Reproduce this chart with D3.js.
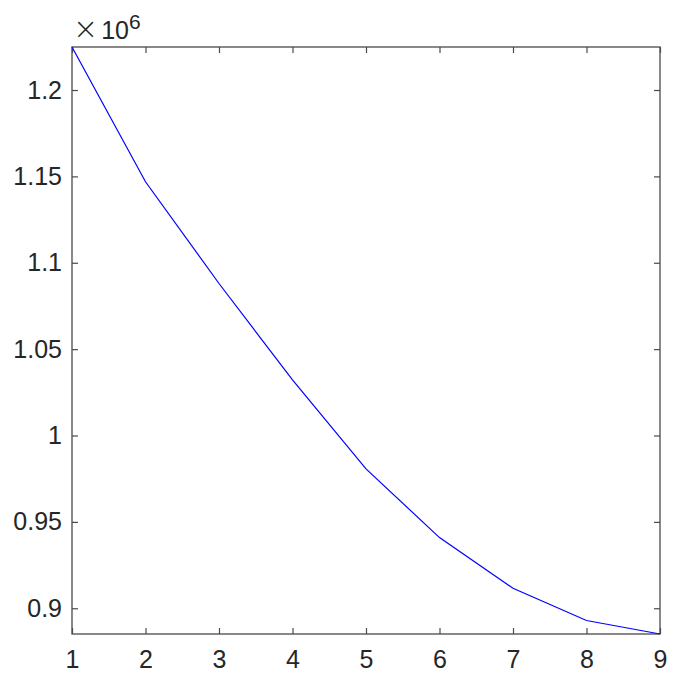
<!DOCTYPE html>
<html><head><meta charset="utf-8">
<script src="https://cdn.jsdelivr.net/npm/d3@7"></script>
<style>body{margin:0;background:#fff}svg{display:block}</style>
</head><body>
<svg id="c" width="692" height="692"></svg>
<script>
const xValues = [1, 2, 3, 4, 5, 6, 7, 8, 9];
const yValues = [1.2249e6, 1.1469e6, 1.0880e6, 1.0322e6, 0.9807e6, 0.9409e6, 0.9116e6, 0.8929e6, 0.8851e6];
const xTicks = [1, 2, 3, 4, 5, 6, 7, 8, 9];
const yTicks = [0.9e6, 0.95e6, 1.0e6, 1.05e6, 1.1e6, 1.15e6, 1.2e6];
const yTickLabels = ["0.9", "0.95", "1", "1.05", "1.1", "1.15", "1.2"];

const svg = d3.select("#c");
const L = 72, R = 660, T = 47, B = 634;
const x = d3.scaleLinear().domain([1, 9]).range([L, R]);
const y = d3.scaleLinear().domain([0.8851e6, 1.2249e6]).range([B, T]);
const axisColor = "#4a4a4a";
const font = "'Liberation Sans', Arial, Helvetica, sans-serif";
const tk = 6;
const fs = 25;

svg.append("rect").attr("x", L).attr("y", T).attr("width", R - L).attr("height", B - T)
  .attr("fill", "none").attr("stroke", axisColor).attr("stroke-width", 1.3);

const gxB = svg.append("g").attr("transform", `translate(0,${B})`)
  .call(d3.axisBottom(x).tickValues(xTicks).tickSize(-tk).tickPadding(tk + 10).tickFormat(d3.format("d")));
const gxT = svg.append("g").attr("transform", `translate(0,${T})`)
  .call(d3.axisTop(x).tickValues(xTicks).tickSize(-tk).tickFormat(""));
const gyL = svg.append("g").attr("transform", `translate(${L},0)`)
  .call(d3.axisLeft(y).tickValues(yTicks).tickSize(-tk).tickPadding(tk + 4)
    .tickFormat(d => yTickLabels[yTicks.indexOf(d)]));
const gyR = svg.append("g").attr("transform", `translate(${R},0)`)
  .call(d3.axisRight(y).tickValues(yTicks).tickSize(-tk).tickFormat(""));

[gxB, gxT, gyL, gyR].forEach(g => {
  g.select(".domain").remove();
  g.selectAll(".tick line").attr("stroke", axisColor).attr("stroke-width", 1.2);
  g.selectAll(".tick text").attr("fill", "#262626").attr("font-family", font).attr("font-size", fs);
});

const line = d3.line().x((d, i) => x(xValues[i])).y(d => y(d));
svg.append("path").datum(yValues).attr("d", line)
  .attr("fill", "none").attr("stroke", "#0000ff").attr("stroke-width", 1.2);

const ex = svg.append("text").attr("x", 73).attr("y", 39)
  .attr("font-family", font).attr("fill", "#262626").attr("font-size", fs);
ex.append("tspan").attr("font-size", 30).attr("font-family", "'DejaVu Sans', sans-serif").attr("font-weight", 200).text("\u00d7");
ex.append("tspan").attr("dx", 3).text("10");
ex.append("tspan").attr("font-size", 21).attr("dy", -10).text("6");
</script>
</body></html>
